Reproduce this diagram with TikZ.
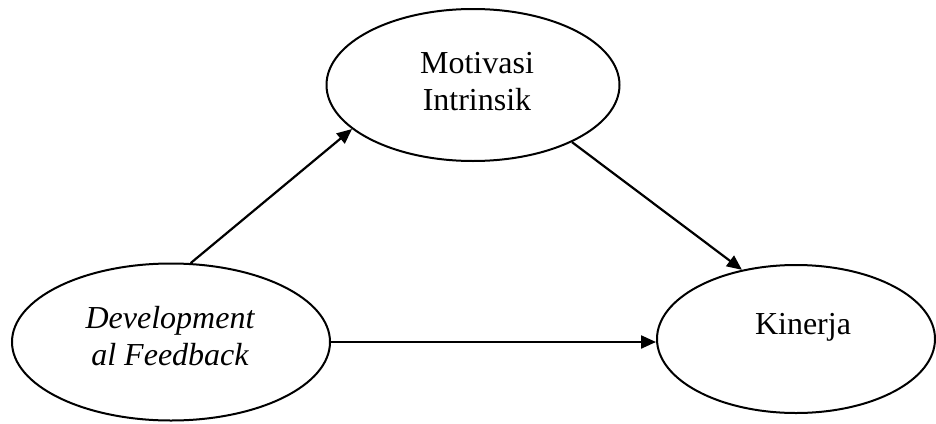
\documentclass[tikz,border=0pt]{standalone}
\usepackage{fontspec}
\setmainfont{Liberation Serif}
\usetikzlibrary{shapes.geometric,arrows.meta}
\begin{document}
\begin{tikzpicture}[x=1pt,y=-1pt,
  oval/.style={ellipse,draw,line width=2pt,inner sep=0pt},
  lbl/.style={font=\fontsize{32}{37}\selectfont,align=center,anchor=base,inner sep=0pt},
  link/.style={line width=2.2pt,-{Triangle[length=15pt,width=13pt]}}]
\useasboundingbox (0,0) rectangle (936,423);
% the three constructs
\node[oval,minimum width=293pt,minimum height=152pt] (mi) at (473,85) {};
\node[oval,minimum width=318pt,minimum height=157pt] (df) at (171,342) {};
\node[oval,minimum width=278pt,minimum height=148pt] (kj) at (796,339) {};
% their labels (base anchor sits on the last line)
\node[lbl] (mitext) at (477,110) {Motivasi\\Intrinsik};
\node[lbl] (dftext) at (170,365) {\itshape Development\\\itshape al Feedback};
\node[lbl] (kjtext) at (803,334) {Kinerja};
% paths between the constructs
\draw[link] (df.76.5) -- (mi.200.9);
\draw[link] (mi.330) -- (kj.128.6);
\draw[link] (df.east) -- (df.east -| kj.west);
\end{tikzpicture}
\end{document}
